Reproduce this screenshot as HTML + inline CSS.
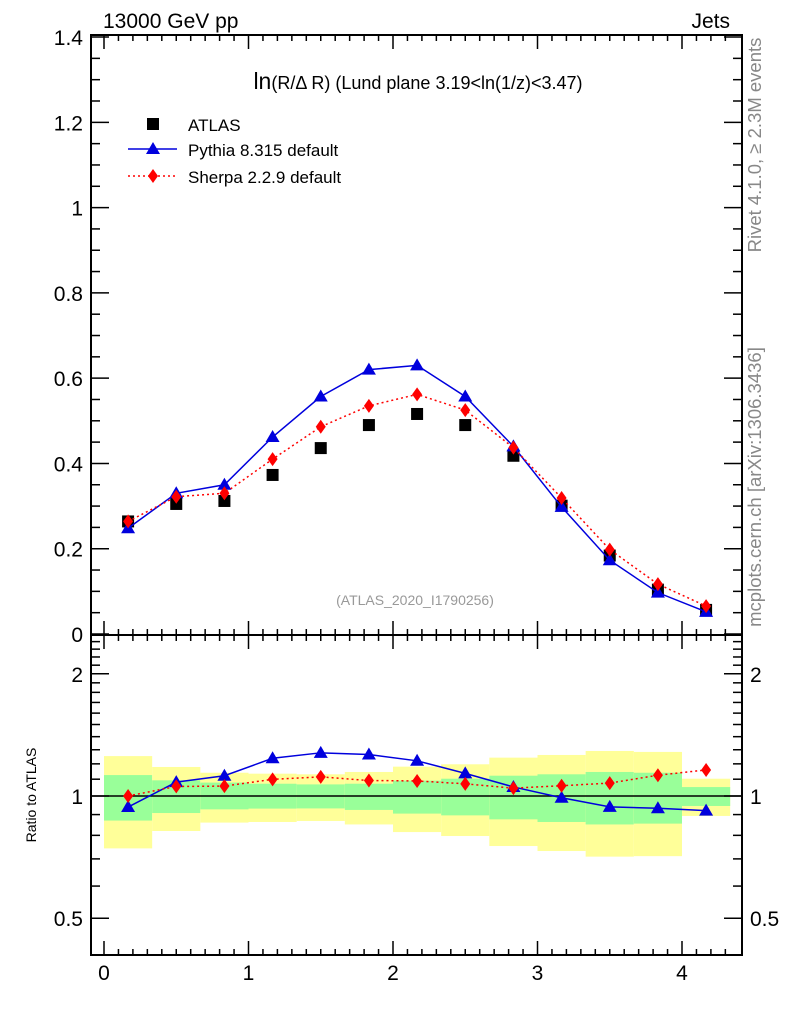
<!DOCTYPE html>
<html><head><meta charset="utf-8"><style>
body{margin:0;background:#fff;}
svg{display:block;font-family:"Liberation Sans",sans-serif;}
</style></head><body>
<svg id="c" width="786" height="1024" viewBox="0 0 786 1024"></svg>
<script>
const centers=[0.1667,0.5,0.8333,1.1667,1.5,1.8333,2.1667,2.5,2.8333,3.1667,3.5,3.8333,4.1667];
const atlas=[0.264,0.305,0.312,0.373,0.436,0.49,0.516,0.49,0.418,0.301,0.184,0.104,0.0565];
const pythia=[0.248,0.33,0.35,0.462,0.557,0.62,0.63,0.557,0.44,0.298,0.173,0.097,0.052];
const sherpa=[0.264,0.322,0.33,0.41,0.486,0.535,0.562,0.525,0.437,0.319,0.198,0.117,0.0655];
const yelUp=[1.254,1.179,1.141,1.135,1.131,1.146,1.181,1.197,1.243,1.262,1.291,1.284,1.103];
const yelDn=[0.743,0.820,0.860,0.863,0.868,0.851,0.815,0.797,0.753,0.732,0.709,0.711,0.893];
const grnUp=[1.126,1.093,1.079,1.072,1.068,1.072,1.091,1.103,1.122,1.131,1.146,1.141,1.052];
const grnDn=[0.870,0.908,0.927,0.931,0.932,0.924,0.905,0.896,0.876,0.863,0.851,0.855,0.945];
const xTicks=[0,1,2,3,4];
const yTicks=[0,0.2,0.4,0.6,0.8,1,1.2,1.4];
const yTickLabels=["0","0.2","0.4","0.6","0.8","1","1.2","1.4"];
const rTicks=[0.5,1,2];
const rTickLabels=["0.5","1","2"];
const binW=1/3;

const NS="http://www.w3.org/2000/svg";
const svg=document.getElementById('c');
const L=91,R=742,T=35,MB=635,RB=955;
const X=v=>104+v*144.5;
const Y=v=>634-v*426.4;
const RY=v=>796-Math.log10(v)*406;
function el(tag,attrs,parent){const e=document.createElementNS(NS,tag);for(const k in attrs)e.setAttribute(k,attrs[k]);(parent||svg).appendChild(e);return e;}
function txt(s,x,y,size,anchor,fill,name,extra){const t=el('text',Object.assign({x:x,y:y,'font-size':size,'text-anchor':anchor||'start',fill:fill||'#000'},extra||{}));t.textContent=s;


return t;}

const bands=el('g',{});


centers.forEach((c,i)=>{
  const x0=X(c-binW/2),x1=X(c+binW/2);
  const ry=el('rect',{x:x0,y:RY(yelUp[i]),width:x1-x0,height:RY(yelDn[i])-RY(yelUp[i]),fill:'#ffff99'},bands);
  
  
  const rg=el('rect',{x:x0,y:RY(grnUp[i]),width:x1-x0,height:RY(grnDn[i])-RY(grnUp[i]),fill:'#99ff99'},bands);
  
  
});
const one=el('line',{x1:L,x2:R,y1:RY(1),y2:RY(1),stroke:'#000','stroke-width':1.5});



[[T,MB,'main-plot-frame'],[MB,RB,'ratio-plot-frame']].forEach(([a,b,n])=>{
  const r=el('rect',{x:L,y:a,width:R-L,height:b-a,fill:'none',stroke:'#000','stroke-width':2});
  
  
});

function xt(y0,dir){
  for(let k=0;k<=43;k++){const v=k/10;const x=X(v);const maj=k%10===0;const len=maj?14:6;
    el('line',{x1:x,x2:x,y1:y0,y2:y0+dir*len,stroke:'#000','stroke-width':1.5});}
}
xt(MB,-1);xt(T,1);xt(RB,-1);xt(MB,1);
xTicks.forEach(v=>txt(String(v),X(v),980,21,'middle','#000','x-tick-label'));

for(let k=0;k<=28;k++){const v=k*0.05;const y=Y(v);const maj=k%4===0;const len=maj?18:9;
  el('line',{x1:L,x2:L+len,y1:y,y2:y,stroke:'#000','stroke-width':1.5});
  el('line',{x1:R,x2:R-len,y1:y,y2:y,stroke:'#000','stroke-width':1.5});}
yTicks.forEach((v,i)=>txt(yTickLabels[i],83,Y(v)+8,21,'end','#000','y-tick-label'));

const rm=[0.5,0.6,0.7,0.8,0.9,1,1.1,1.2,1.3,1.4,1.5,1.6,1.7,1.8,1.9,2,2.1,2.2,2.3,2.4];
rm.forEach(v=>{const y=RY(v);const maj=rTicks.includes(v);const len=maj?18:9;
  el('line',{x1:L,x2:L+len,y1:y,y2:y,stroke:'#000','stroke-width':1.5});
  el('line',{x1:R,x2:R-len,y1:y,y2:y,stroke:'#000','stroke-width':1.5});});
rTicks.forEach((v,i)=>{txt(rTickLabels[i],83,RY(v)+8,21,'end','#000','ratio-tick-label');txt(rTickLabels[i],750,RY(v)+8,21,'start','#000','ratio-tick-label-right');});

function tri(g,x,y,c){el('polygon',{points:`${x},${y-7} ${x-7},${y+5} ${x+7},${y+5}`,fill:c},g);}
function dia(g,x,y,c){el('polygon',{points:`${x},${y-7} ${x+5},${y} ${x},${y+7} ${x-5},${y}`,fill:c},g);}
function sq(g,x,y,c){el('rect',{x:x-6,y:y-6,width:12,height:12,fill:c},g);}

function series(vals,fy,color,dash,marker,name){
  const g=el('g',{});
  
  
  if(color){el('polyline',{points:centers.map((c,i)=>X(c)+','+fy(vals[i],i)).join(' '),fill:'none',stroke:color,'stroke-width':1.5,'stroke-dasharray':dash||'none'},g);}
  centers.forEach((c,i)=>marker(g,X(c),fy(vals[i],i),color||'#000'));
}
series(atlas,v=>Y(v),null,null,sq,'atlas-data-points');
series(pythia,v=>Y(v),'#0000dd',null,tri,'pythia-series');
series(sherpa,v=>Y(v),'#ff0000','2,3',dia,'sherpa-series');
series(pythia,(v,i)=>RY(v/atlas[i]),'#0000dd',null,tri,'pythia-ratio-series');
series(sherpa,(v,i)=>RY(v/atlas[i]),'#ff0000','2,3',dia,'sherpa-ratio-series');

const lg=el('g',{});


sq(lg,153,124,'#000');
el('line',{x1:128,x2:177,y1:149,y2:149,stroke:'#0000dd','stroke-width':1.5},lg);tri(lg,153,149,'#0000dd');
el('line',{x1:128,x2:177,y1:176,y2:176,stroke:'#ff0000','stroke-width':1.5,'stroke-dasharray':'2,3'},lg);dia(lg,153,176,'#ff0000');
txt('ATLAS',188,131,17,'start','#000','legend-atlas');
txt('Pythia 8.315 default',188,156,17,'start','#000','legend-pythia');
txt('Sherpa 2.2.9 default',188,183,17,'start','#000','legend-sherpa');

txt('13000 GeV pp',103,28,21,'start','#000','beam-label');
txt('Jets',730,28,21,'end','#000','process-label');
const tt=txt('',418,89,18,'middle','#000','plot-title');
tt.innerHTML='<tspan font-size="23">ln</tspan>(R/Δ R) (Lund plane 3.19&lt;ln(1/z)&lt;3.47)';
txt('(ATLAS_2020_I1790256)',415,605,14,'middle','#999','analysis-id');
txt('Ratio to ATLAS',36,795,14,'middle','#000','ratio-y-axis-title',{transform:'rotate(-90 36 795)'});
txt('Rivet 4.1.0, ≥ 2.3M events',761,145,18.5,'middle','#888','rivet-version-label',{transform:'rotate(-90 761 145)'});
txt('mcplots.cern.ch [arXiv:1306.3436]',761,487,18.5,'middle','#888','mcplots-label',{transform:'rotate(-90 761 487)'});
</script>
</body></html>
